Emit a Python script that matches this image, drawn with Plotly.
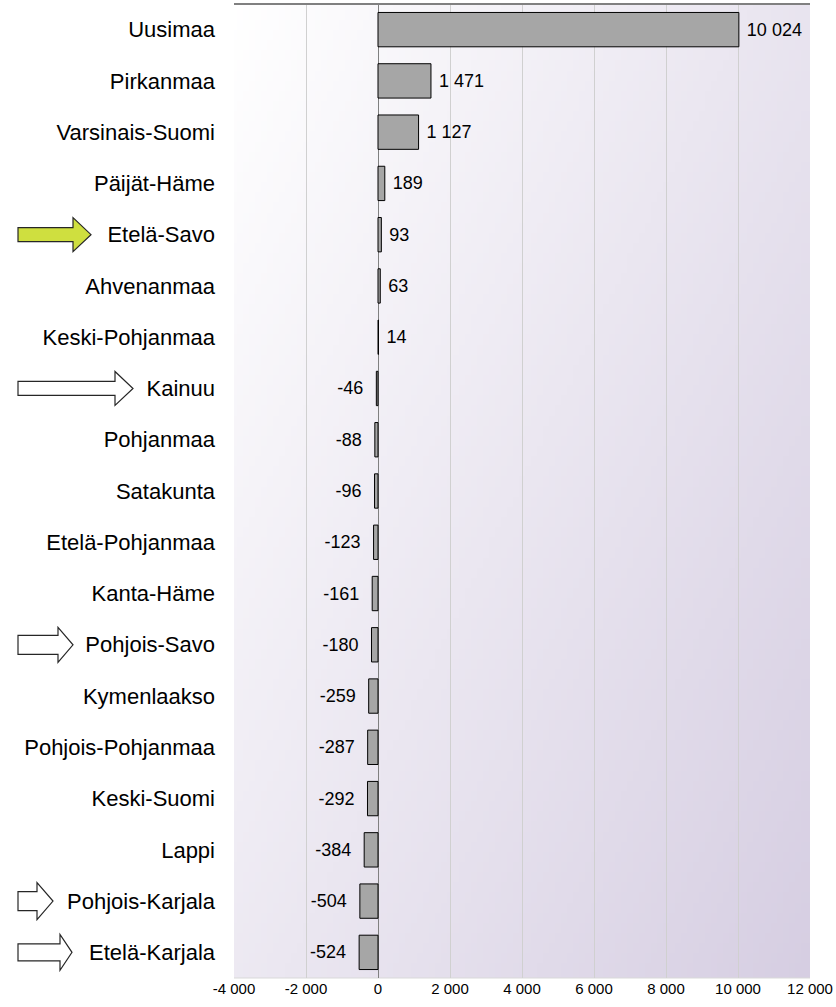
import base64
import struct
import zlib

import plotly.graph_objects as go

# ---------------- data ----------------
regions = [
    "Uusimaa", "Pirkanmaa", "Varsinais-Suomi", "Päijät-Häme", "Etelä-Savo",
    "Ahvenanmaa", "Keski-Pohjanmaa", "Kainuu", "Pohjanmaa", "Satakunta",
    "Etelä-Pohjanmaa", "Kanta-Häme", "Pohjois-Savo", "Kymenlaakso",
    "Pohjois-Pohjanmaa", "Keski-Suomi", "Lappi", "Pohjois-Karjala", "Etelä-Karjala",
]
values = [10024, 1471, 1127, 189, 93, 63, 14, -46, -88, -96, -123, -161, -180,
          -259, -287, -292, -384, -504, -524]
tick_values = [-4000, -2000, 0, 2000, 4000, 6000, 8000, 10000, 12000]
tick_labels = ["-4 000", "-2 000", "0", "2 000", "4 000", "6 000", "8 000", "10 000", "12 000"]

# highlighted regions (arrows)
arrow_regions = ["Etelä-Savo", "Kainuu", "Pohjois-Savo", "Pohjois-Karjala", "Etelä-Karjala"]

# ---------------- layout geometry (pixels) ----------------
W, H = 836, 1007
PL, PR, PT, PB = 234, 810, 4, 978


def fmt(v):
    s = f"{abs(v):,}".replace(",", " ")
    return ("-" + s) if v < 0 else s


NB = "\u00a0"
texts = [(NB + fmt(v)) if v >= 0 else (fmt(v) + NB + NB) for v in values]


# ---------------- gradient background image ----------------
def make_png(w, h, func):
    rows = []
    for j in range(h):
        row = bytearray([0])
        for i in range(w):
            row.extend(func(i / (w - 1), j / (h - 1)))
        rows.append(bytes(row))
    raw = b"".join(rows)

    def chunk(tag, data):
        c = struct.pack(">I", len(data)) + tag + data
        return c + struct.pack(">I", zlib.crc32(tag + data) & 0xFFFFFFFF)

    png = b"\x89PNG\r\n\x1a\n"
    png += chunk(b"IHDR", struct.pack(">IIBBBBB", w, h, 8, 2, 0, 0, 0))
    png += chunk(b"IDAT", zlib.compress(raw, 9))
    png += chunk(b"IEND", b"")
    return "data:image/png;base64," + base64.b64encode(png).decode()


c0 = (255, 255, 255)
c1 = (214, 206, 226)


def grad(u, v):
    t = (u * 0.55 + v * 0.45)
    return bytes(int(round(c0[k] + (c1[k] - c0[k]) * t)) for k in range(3))


bg = make_png(96, 96, grad)

# ---------------- figure ----------------
fig = go.Figure()
fig.add_trace(go.Bar(
    x=values,
    y=regions,
    orientation="h",
    marker=dict(color="#a6a6a6", line=dict(color="#000000", width=1)),
    text=texts,
    textposition="outside",
    textfont=dict(size=18, color="#000000"),
    constraintext="none",
    cliponaxis=False,
    hoverinfo="x+y",
))


def px2paper_x(px):
    return (px - PL) / (PR - PL)


def px2paper_y(py):
    return (PB - py) / (PB - PT)


row_h = (PB - PT) / len(regions)

# arrow specs in pixels: left, head base, tip, shaft half-height, head half-height, fill
arrow_specs = {
    "Etelä-Savo": (18, 73, 91, 7, 17, "#cfdf3f"),
    "Kainuu": (18, 115, 133, 7, 17, "#ffffff"),
    "Pohjois-Savo": (18, 58, 73, 9.5, 17.5, "#ffffff"),
    "Pohjois-Karjala": (18, 37, 53, 9.5, 18.5, "#ffffff"),
    "Etelä-Karjala": (18, 60, 72, 8.5, 18, "#ffffff"),
}

shapes = []
for name in arrow_regions:
    left, base, tip, sh, hh, fill = arrow_specs[name]
    idx = regions.index(name)
    cy = PT + row_h * (idx + 0.5)
    pts = [(left, cy - sh), (base, cy - sh), (base, cy - hh), (tip, cy),
           (base, cy + hh), (base, cy + sh), (left, cy + sh)]
    path = "M " + " L ".join(f"{px2paper_x(x):.5f},{px2paper_y(y):.5f}" for x, y in pts) + " Z"
    shapes.append(dict(type="path", xref="paper", yref="paper", path=path,
                       fillcolor=fill, line=dict(color="#262626", width=1.2), layer="above"))

# frame lines
shapes.append(dict(type="line", xref="paper", yref="paper", x0=0, x1=1, y0=0, y1=0,
                   line=dict(color="#d9d9d9", width=1), layer="below"))
shapes.append(dict(type="line", xref="paper", yref="paper", x0=0, x1=1, y0=1, y1=1,
                   line=dict(color="#808080", width=2), layer="above"))

fig.update_layout(
    width=W, height=H,
    margin=dict(l=PL, r=W - PR, t=PT, b=H - PB, pad=0, autoexpand=False),
    paper_bgcolor="#ffffff",
    plot_bgcolor="rgba(0,0,0,0)",
    font=dict(family="Liberation Sans, Arial, sans-serif", color="#000000"),
    showlegend=False,
    bargap=0.33,
    shapes=shapes,
    images=[dict(source=bg, xref="paper", yref="paper", x=0, y=1, sizex=1, sizey=1,
                 xanchor="left", yanchor="top", sizing="stretch", layer="below")],
    xaxis=dict(
        range=[-4000, 12000],
        tickvals=tick_values,
        ticktext=tick_labels,
        showgrid=True,
        gridcolor="#d0d0d0",
        gridwidth=1,
        zeroline=True,
        zerolinecolor="#808080",
        zerolinewidth=1,
        showline=False,
        ticks="",
        tickfont=dict(size=15, color="#000000"),
        automargin=False,
        fixedrange=True,
    ),
    yaxis=dict(
        autorange="reversed",
        showgrid=False,
        zeroline=False,
        showline=False,
        ticks="",
        ticklabelstandoff=18,
        tickfont=dict(size=22, color="#000000"),
        automargin=False,
        fixedrange=True,
    ),
)

fig.write_html(
    "out.html",
    config={"displayModeBar": False},
    post_script="document.body.style.margin='0';document.body.style.overflow='hidden';",
)
